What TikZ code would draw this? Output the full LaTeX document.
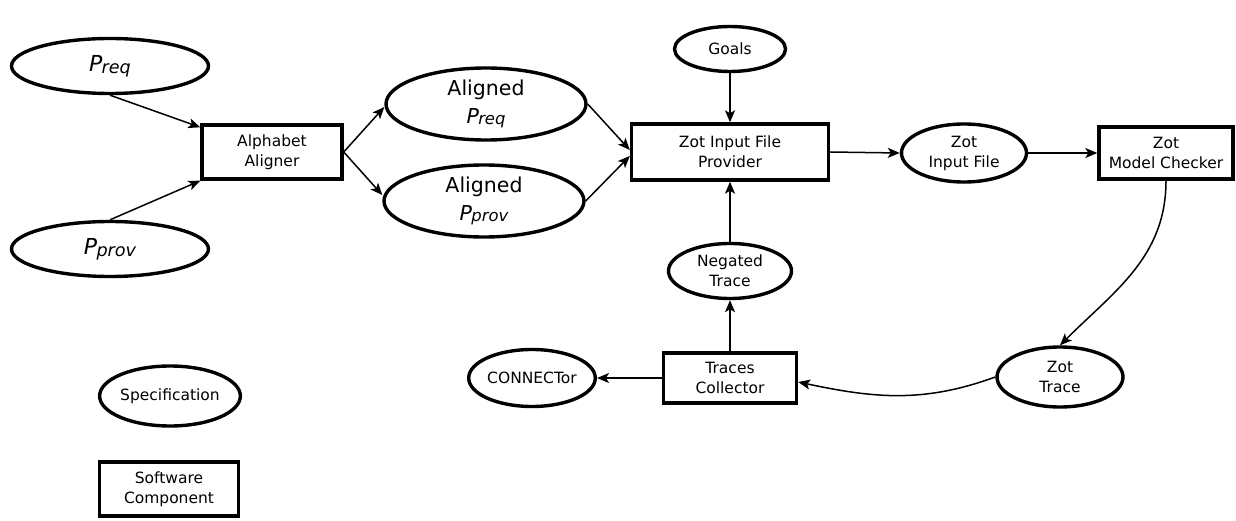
\documentclass[tikz,border=0pt]{standalone}
\usepackage{fontspec}
\setmainfont{DejaVu Sans}
\usetikzlibrary{shapes.geometric,arrows.meta}
\newcommand\psubx[1]{\textit{P}\kern-0.03em\raisebox{-0.15ex}{\textit{\scalebox{0.8}{#1}}}}
\begin{document}
\begin{tikzpicture}[x=1pt,y=-1pt,
  spec/.style={ellipse, draw, line width=3.4pt, inner sep=0pt, align=center, font=\fontsize{15.5}{20}\selectfont},
  comp/.style={rectangle, draw, line width=3.4pt, inner sep=0pt, align=center, font=\fontsize{15.5}{20}\selectfont},
  bigp/.style={font=\fontsize{22}{27}\selectfont},
  midp/.style={font=\fontsize{20.5}{28}\selectfont},
  arr/.style={-{Stealth[length=12pt,width=10pt,inset=3pt]}, line width=1.5pt}]
\useasboundingbox (0,0) rectangle (1236,521);
\node[spec,bigp,minimum width=197,minimum height=55] (preq) at (110,66) {\psubx{req}};
\node[spec,bigp,minimum width=197,minimum height=55] (pprov) at (110,249) {\psubx{prov}};
\node[comp,minimum width=140,minimum height=54] (aa) at (272,152) {Alphabet\\Aligner};
\node[spec,midp,minimum width=200,minimum height=72] (apreq) at (486,104) {Aligned\\\psubx{req}};
\node[spec,midp,minimum width=200,minimum height=72] (approv) at (484,201) {Aligned\\\psubx{prov}};
\node[comp,minimum width=197,minimum height=56] (zp) at (730,152) {Zot Input File\\Provider};
\node[spec,minimum width=111,minimum height=45] (goals) at (730,49) {Goals};
\node[spec,minimum width=123,minimum height=55] (neg) at (730,271) {Negated\\Trace};
\node[comp,minimum width=133,minimum height=50] (tc) at (730,378) {Traces\\Collector};
\node[spec,minimum width=126,minimum height=57] (conn) at (532,378) {CONNECTor};
\node[spec,minimum width=125,minimum height=58] (zif) at (964,153) {Zot\\Input File};
\node[comp,minimum width=134,minimum height=52] (zmc) at (1166,153) {Zot\\Model Checker};
\node[spec,minimum width=126,minimum height=60] (zt) at (1060,377) {Zot\\Trace};
\node[spec,minimum width=127,minimum height=60] (specif) at (170,396) {Specification};
\node[comp,minimum width=139,minimum height=54] (sw) at (169,489) {Software\\Component};

\draw[arr] (preq.south) -- ([yshift=-4pt]aa.north west);
\draw[arr] (pprov.north) -- (aa.south west);
\draw[arr] (aa.east) -- ([yshift=-3pt]apreq.west);
\draw[arr] (aa.east) -- ([yshift=6pt]approv.west);
\draw[arr] (apreq.east) -- ([yshift=2pt]zp.west);
\draw[arr] (approv.east) -- ([yshift=-4pt]zp.west);
\draw[arr] (goals.south) -- (zp.north);
\draw[arr] (neg.north) -- (zp.south);
\draw[arr] (tc.north) -- (neg.south);
\draw[arr] (tc.west) -- (conn.east);
\draw[arr] (zp.east) -- (zif.west);
\draw[arr] (zif.east) -- (zmc.west);
\draw[arr] (zmc.south) to[out=-90,in=45] (zt.north);
\draw[arr] (zt.west) to[out=200,in=-12] ([yshift=-4pt]tc.east);
\end{tikzpicture}
\end{document}
